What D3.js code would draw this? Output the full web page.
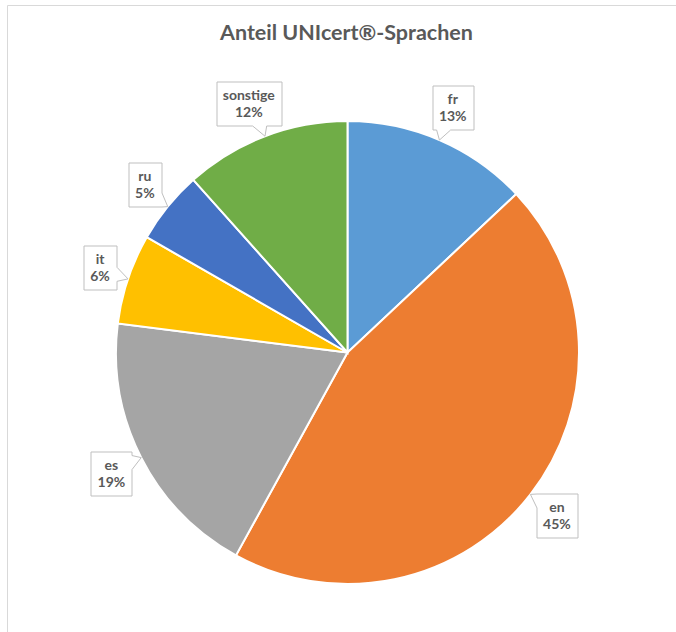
<!DOCTYPE html>
<html>
<head>
<meta charset="utf-8">
<script src="https://cdn.jsdelivr.net/npm/d3@7"></script>
<style>
  html, body { margin: 0; padding: 0; background: #fff; }
  svg { display: block; }
</style>
</head>
<body>
<div id="chart"></div>
<script>
// Chart data
const categories = ['fr', 'en', 'es', 'it', 'ru', 'sonstige'];
const values = [13, 45, 19, 6.3, 5.1, 11.6];
const colors = ['#5B9BD5', '#ED7D31', '#A5A5A5', '#FFC000', '#4472C4', '#70AD47'];
const title = 'Anteil UNIcert®-Sprachen';

const width = 676;
const height = 632;
const cx = 347.5;
const cy = 352.5;
const radius = 231.5;
const fontFamily = 'Lato, "Noto Sans", sans-serif';
const textColor = '#595959';

const svg = d3.select('#chart')
  .append('svg')
  .attr('width', width)
  .attr('height', height);

// Chart area frame (only top and left edges visible)
svg.append('line')
  .attr('x1', 7.5).attr('y1', 5.5).attr('x2', width).attr('y2', 5.5)
  .attr('stroke', '#D9D9D9').attr('stroke-width', 1);
svg.append('line')
  .attr('x1', 7.5).attr('y1', 5.5).attr('x2', 7.5).attr('y2', height)
  .attr('stroke', '#D9D9D9').attr('stroke-width', 1);

// Title
svg.append('text')
  .attr('x', cx - 1)
  .attr('y', 40)
  .attr('text-anchor', 'middle')
  .style('font-family', fontFamily)
  .style('font-size', '21.5px')
  .style('font-weight', '700')
  .style('fill', textColor)
  .text(title);

const data = categories.map((c, i) => ({ name: c, value: values[i], color: colors[i] }));
const total = d3.sum(values);

// Pie layout, clockwise from 12 o'clock
const pie = d3.pie()
  .sort(null)
  .value(d => d.value);

const arc = d3.arc()
  .innerRadius(0)
  .outerRadius(radius);

const g = svg.append('g')
  .attr('transform', `translate(${cx},${cy})`);

const arcs = pie(data);

g.selectAll('.slice')
  .data(arcs)
  .enter().append('path')
  .attr('class', 'slice')
  .attr('d', arc)
  .style('fill', d => d.data.color)
  .style('stroke', '#fff')
  .style('stroke-width', 2);

// Callout labels
const labels = g.selectAll('.label')
  .data(arcs)
  .enter().append('g')
  .attr('class', 'label');

labels.each(function(d) {
  const grp = d3.select(this);
  const mid = (d.startAngle + d.endAngle) / 2;
  const pct = Math.round(d.data.value / total * 100) + '%';

  const callout = grp.append('path')
    .style('fill', '#fff')
    .style('stroke', '#BFBFBF')
    .style('stroke-width', 1);

  const t = grp.append('text')
    .attr('text-anchor', 'middle')
    .style('font-family', fontFamily)
    .style('font-size', '14px')
    .style('font-weight', '700')
    .style('fill', textColor);
  const l1 = t.append('tspan').text(d.data.name);
  const l2 = t.append('tspan').text(pct);

  const tw = Math.max(l1.node().getComputedTextLength(), l2.node().getComputedTextLength());
  const bw = Math.round(tw + 13);
  const bh = 44;

  // Box sits just outside the slice edge, pushed out by its own half size
  const ux = Math.sin(mid), uy = -Math.cos(mid);
  const dist = radius + 13;
  const bx = ux * dist + ux * bw / 2;
  const by = uy * dist + uy * bh / 2;

  l1.attr('x', bx).attr('y', by - 3.5);
  l2.attr('x', bx).attr('y', by + 13.5);

  // Tip of the callout at the slice edge
  const tx = ux * radius;
  const ty = uy * radius;

  callout.attr('d', calloutPath(bx, by, bw, bh, tx, ty));
});

// Function to build a rectangle callout with a wedge pointing at (tx, ty)
function calloutPath(bx, by, bw, bh, tx, ty) {
  const x0 = Math.round(bx - bw / 2) + 0.5, x1 = x0 + bw;
  const y0 = Math.round(by - bh / 2) + 0.5, y1 = y0 + bh;
  const hw = bw / 2, hh = bh / 2;
  const dx = tx - bx, dy = ty - by;
  const w = 7;
  const clamp = (v, lo, hi) => Math.max(lo, Math.min(hi, v));
  const p = [];
  if (Math.abs(dx) / hw > Math.abs(dy) / hh) {
    // Wedge on left or right side
    const yc = clamp(by + dy * hw / Math.abs(dx), y0 + w, y1 - w);
    const a = yc - w, b = yc + w;
    if (dx > 0) {
      p.push([x0, y0], [x1, y0], [x1, a], [tx, ty], [x1, b], [x1, y1], [x0, y1]);
    } else {
      p.push([x0, y0], [x1, y0], [x1, y1], [x0, y1], [x0, b], [tx, ty], [x0, a]);
    }
  } else {
    // Wedge on top or bottom side
    const xc = clamp(bx + dx * hh / Math.abs(dy), x0 + w, x1 - w);
    const a = xc - w, b = xc + w;
    if (dy < 0) {
      p.push([x0, y0], [a, y0], [tx, ty], [b, y0], [x1, y0], [x1, y1], [x0, y1]);
    } else {
      p.push([x0, y0], [x1, y0], [x1, y1], [b, y1], [tx, ty], [a, y1], [x0, y1]);
    }
  }
  return 'M' + p.map(q => q.join(',')).join('L') + 'Z';
}
</script>
</body>
</html>
